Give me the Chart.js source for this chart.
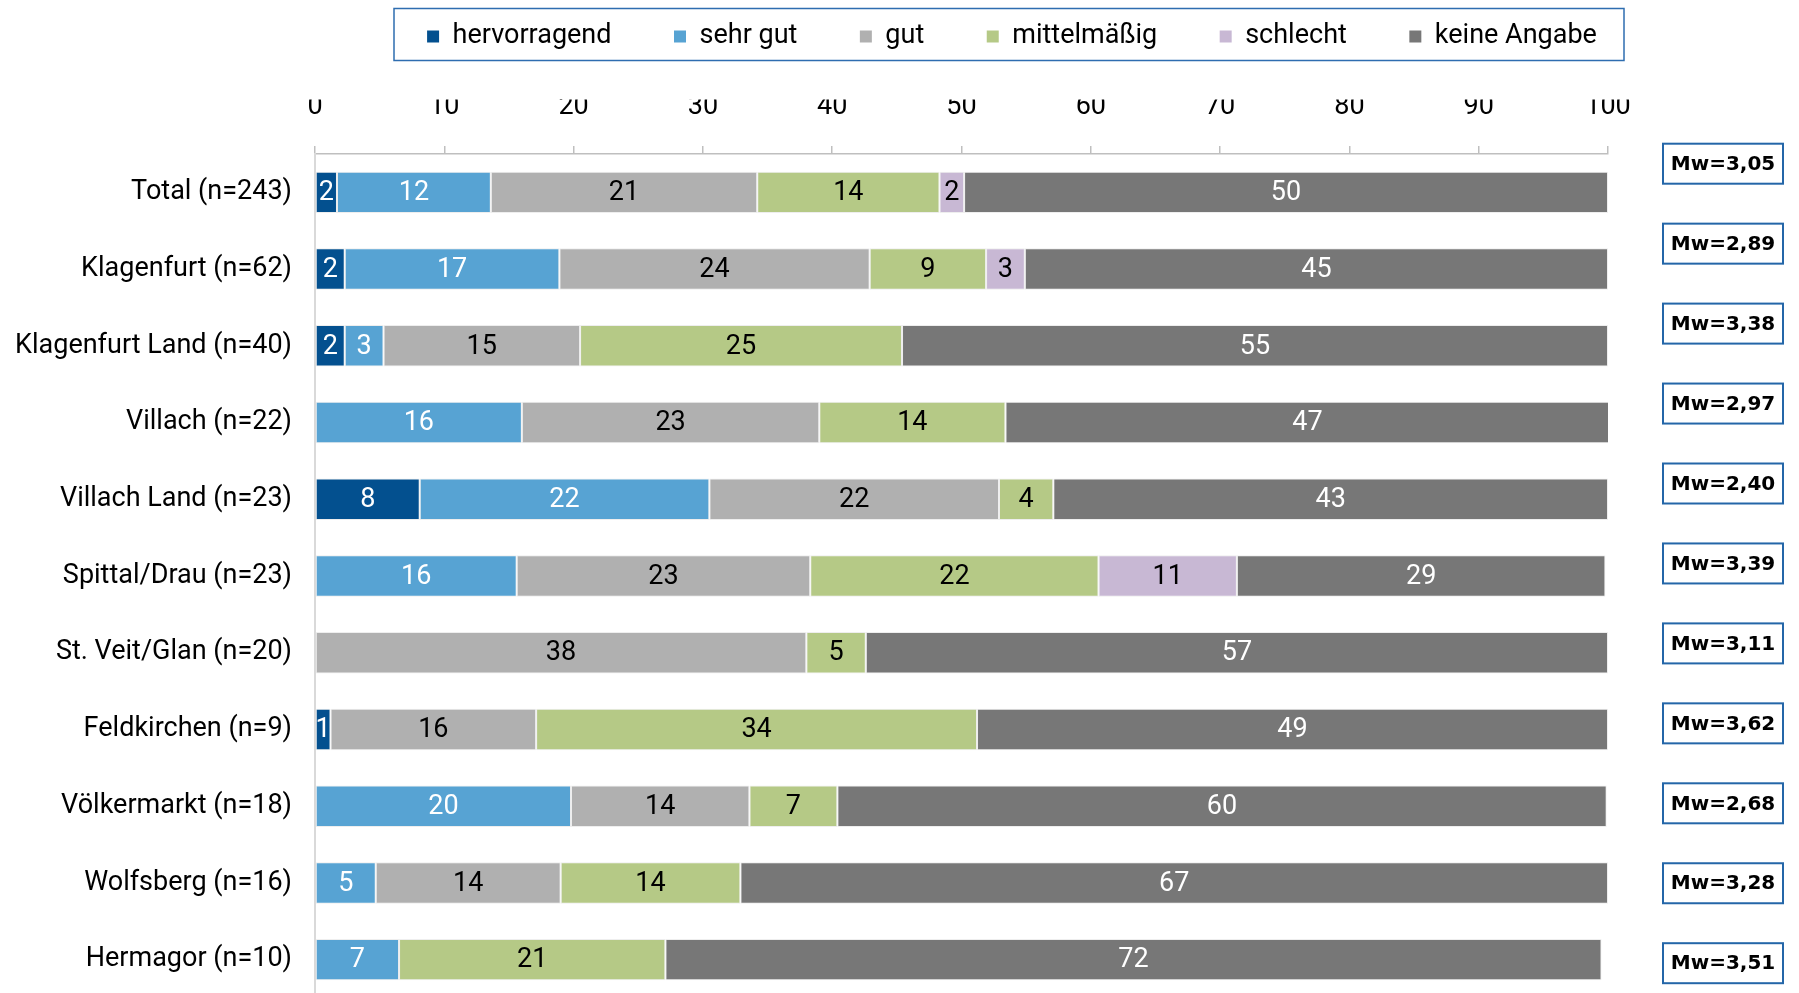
<!DOCTYPE html>
<html><head><meta charset="utf-8">
<script src="https://cdn.jsdelivr.net/npm/chart.js@4.4.1/dist/chart.umd.min.js"></script>
<style>html,body{margin:0;padding:0;background:#fff;overflow:hidden}canvas{display:block}</style>
</head><body>
<canvas id="c" width="1799" height="993"></canvas>
<script>
const categories = ["Total (n=243)", "Klagenfurt (n=62)", "Klagenfurt Land (n=40)", "Villach (n=22)", "Villach Land (n=23)", "Spittal/Drau (n=23)", "St. Veit/Glan (n=20)", "Feldkirchen (n=9)", "Völkermarkt (n=18)", "Wolfsberg (n=16)", "Hermagor (n=10)"];
const hervorragend = [1.7, 2.3, 2.3, null, 8.1, null, null, 1.2, null, null, null];
const sehrGut      = [11.9, 16.6, 3.0, 16.0, 22.4, 15.6, null, null, 19.8, 4.7, 6.5];
const gut          = [20.6, 24.0, 15.2, 23.0, 22.4, 22.7, 38.0, 15.9, 13.8, 14.3, null];
const mittelmaessig= [14.1, 9.0, 24.9, 14.4, 4.2, 22.3, 4.6, 34.1, 6.8, 13.9, 20.6];
const schlecht     = [1.9, 3.0, null, null, null, 10.7, null, null, null, null, null];
const keineAngabe  = [49.8, 45.1, 54.6, 46.7, 42.9, 28.5, 57.4, 48.8, 59.5, 67.1, 72.4];
const mwValues = [3.05, 2.89, 3.38, 2.97, 2.40, 3.39, 3.11, 3.62, 2.68, 3.28, 3.51];
const seriesNames = ["hervorragend", "sehr gut", "gut", "mittelmäßig", "schlecht", "keine Angabe"];
const seriesData = [hervorragend, sehrGut, gut, mittelmaessig, schlecht, keineAngabe];
const seriesColors = ["#03508f", "#57a3d3", "#b0b0b0", "#b5c986", "#c8b8d4", "#777777"];
const valueLabelColors = ["#ffffff", "#ffffff", "#000000", "#000000", "#000000", "#ffffff"];
const xMin = 0, xMax = 100, xStep = 10;

const FONT = "Roboto";
const FS = 27;
const LEG_PAD = 62.5;
const LEG_CX = 1012;
const PLOT_TOP = 154;
const BOTTOM_OVERHANG = 5;

const valueLabels = {
  id: 'valueLabels',
  afterDatasetsDraw(chart) {
    const ctx = chart.ctx;
    ctx.save();
    ctx.font = FS + "px " + FONT;
    ctx.textAlign = "center";
    ctx.textBaseline = "middle";
    chart.data.datasets.forEach((ds, i) => {
      const meta = chart.getDatasetMeta(i);
      meta.data.forEach((bar, j) => {
        const v = ds.data[j];
        if (v == null) return;
        const p = bar.getProps(['x', 'base', 'y'], true);
        ctx.fillStyle = valueLabelColors[i];
        ctx.fillText(String(Math.round(v)), (p.x + p.base) / 2, p.y + 1);
      });
    });
    ctx.restore();
  }
};

const extendPlot = {
  id: 'extendPlot',
  afterLayout(chart) {
    const y = chart.scales.y;
    const b = chart.height + BOTTOM_OVERHANG;
    y.bottom = b;
    y.height = b - y.top;
    chart.chartArea.bottom = b;
    chart.chartArea.height = b - chart.chartArea.top;
    y.configure();
  }
};

const legendPlace = {
  id: 'legendPlace',
  beforeDraw(chart) {
    const lg = chart.legend;
    const w = lg.width;
    lg.left = LEG_CX - w / 2;
    lg.right = LEG_CX + w / 2;
    lg.top = 23 - LEG_PAD;
    lg.bottom = lg.top + lg.height;
  },
  afterDraw(chart) {
    const ctx = chart.ctx;
    ctx.save();
    ctx.strokeStyle = "#2e6db0";
    ctx.lineWidth = 1.5;
    ctx.strokeRect(394, 8.5, 1230, 52);
    ctx.restore();
  }
};

const mwBoxes = {
  id: 'mwBoxes',
  afterDraw(chart) {
    const ctx = chart.ctx;
    const a = chart.chartArea;
    const n = mwValues.length;
    const first = a.top + 9.7;
    const step = (a.bottom - a.top - 44.5) / (n - 1);
    ctx.save();
    ctx.font = "bold 20px 'DejaVu Sans'";
    ctx.textAlign = "center";
    ctx.textBaseline = "middle";
    mwValues.forEach((m, i) => {
      const cy = first + i * step;
      const x = a.right + 55, w = 120, h = 40;
      ctx.fillStyle = "#ffffff";
      ctx.fillRect(x, cy - h / 2, w, h);
      ctx.strokeStyle = "#2466a8";
      ctx.lineWidth = 2;
      ctx.strokeRect(x, cy - h / 2, w, h);
      ctx.fillStyle = "#000000";
      ctx.fillText("Mw=" + m.toFixed(2).replace(".", ","), x + w / 2, cy + 1);
    });
    ctx.restore();
  }
};

new Chart(document.getElementById("c"), {
  type: "bar",
  data: {
    labels: categories,
    datasets: seriesNames.map((name, i) => ({
      label: name,
      data: seriesData[i],
      backgroundColor: seriesColors[i],
      borderColor: "#eeeeee",
      borderWidth: 1,
      borderSkipped: false,
      barPercentage: 0.54,
      categoryPercentage: 1
    }))
  },
  options: {
    indexAxis: "y",
    responsive: false,
    maintainAspectRatio: false,
    animation: false,
    layout: {padding: {left: 0, right: 191, top: 0, bottom: 0}},
    plugins: {
      tooltip: {enabled: false},
      legend: {
        position: "top",
        align: "center",
        labels: {
          font: {family: FONT, size: FS},
          color: "#000000",
          boxWidth: 12,
          boxHeight: 12,
          padding: LEG_PAD,
          generateLabels(chart) {
            return chart.data.datasets.map((ds, i) => ({
              text: ds.label,
              fillStyle: seriesColors[i],
              strokeStyle: seriesColors[i],
              lineWidth: 0,
              hidden: false,
              datasetIndex: i
            }));
          }
        }
      }
    },
    scales: {
      x: {
        type: "linear",
        position: "top",
        stacked: true,
        min: xMin,
        max: xMax,
        ticks: {stepSize: xStep, font: {family: FONT, size: FS}, color: "#000000", padding: 23},
        grid: {drawOnChartArea: false, drawTicks: true, tickLength: 8, color: "#bfbfbf", lineWidth: 1.5},
        border: {display: true, color: "#bfbfbf", width: 1.5},
        afterFit(s) {
          const lg = s.chart.legend;
          const lh = lg && lg.height ? lg.height : (FS + LEG_PAD + 10);
          s.height = PLOT_TOP - lh;
          s.paddingLeft = 0;
          s.paddingRight = 0;
        }
      },
      y: {
        type: "category",
        stacked: true,
        ticks: {font: {family: FONT, size: FS}, color: "#000000", padding: 23},
        grid: {drawOnChartArea: false, drawTicks: false},
        border: {display: true, color: "#d9d9d9", width: 2},
        afterFit(s) {
          s.width = 315;
          s.paddingTop = 0;
          s.paddingBottom = 0;
        }
      }
    }
  },
  plugins: [extendPlot, valueLabels, legendPlace, mwBoxes]
});
</script>
</body></html>
